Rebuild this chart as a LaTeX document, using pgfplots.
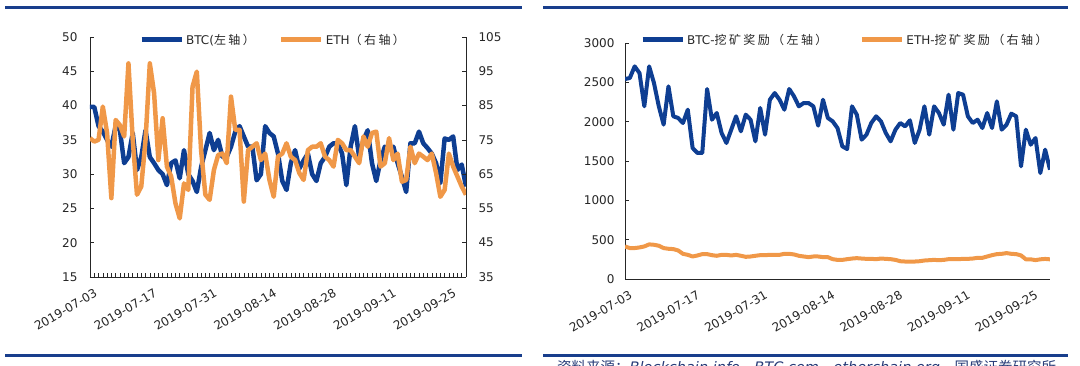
\documentclass[border=0pt]{standalone}
\usepackage{pgfplots}
\pgfplotsset{compat=1.18}
\usepackage{fontspec}
\setmainfont{DejaVu Sans}
\newfontfamily\cjk[LetterSpace=20]{Noto Sans CJK SC}
\newfontfamily\cjksrc{Noto Sans CJK SC}
\definecolor{btc}{RGB}{14,62,146}
\definecolor{eth}{RGB}{240,152,72}
\definecolor{rulec}{RGB}{24,62,140}
\definecolor{srcc}{RGB}{40,60,120}

\pgfplotsset{
  common/.style={
    scale only axis,
    xmin=0, xmax=88,
    tick align=inside,
    axis line style={line width=0.8pt, black!85},
    every tick/.style={black!85, line width=0.6pt},
    tick label style={font=\fontsize{12}{14}\selectfont, text=black!85},
    /pgf/number format/assume math mode=true,
    /pgf/number format/1000 sep={},
    scaled ticks=false,
    xticklabel style={rotate=30, anchor=north east, yshift=-8pt, xshift=1pt},
    xtick={0,14,...,84},
    xticklabels={2019-07-03,2019-07-17,2019-07-31,2019-08-14,2019-08-28,2019-09-11,2019-09-25},
    legend image code/.code={\draw[#1, line width=5pt] (0pt,0pt) -- (40pt,0pt);},
    legend style={draw=none, fill=none, legend columns=2,
      font=\fontsize{12}{14}\selectfont, text=black!85,
      inner xsep=0pt, inner ysep=0pt,
      nodes={inner xsep=2pt},
      /tikz/every even column/.append style={column sep=22pt}},
  }
}

\begin{document}
\begin{tikzpicture}[x=1pt,y=1pt]
\useasboundingbox (0,0) rectangle (1080,366);
% decoration rules
\draw[rulec, line width=3pt] (5,358) -- (522,358);
\draw[rulec, line width=3pt] (5,10) -- (522,10);
\draw[rulec, line width=3pt] (543,358) -- (1068,358);
\draw[rulec, line width=3pt] (543,10) -- (1068,10);
\begin{scope}
\clip (540,0) rectangle (1080,8.5);
\node[anchor=north west, inner sep=0pt, text=srcc, font=\fontsize{14.5}{16}\selectfont\itshape] at (557,6)
  {{\cjksrc 资料来源：}Blockchain.info{\cjksrc 、}BTC.com{\cjksrc 、}etherchain.org{\cjksrc 、国盛证券研究所}};
\end{scope}

% ---------------- left chart ----------------
\begin{axis}[common,
  at={(90pt,89pt)}, anchor=south west, width=376pt, height=240pt,
  ymin=15, ymax=50, ytick={15,20,...,50},
  axis x line*=bottom, axis y line*=left,
  minor xtick={0,1,...,88},
  major tick length=4pt, minor tick length=4pt,
  yticklabel style={xshift=-9pt},
]
\addplot[btc, line width=4.5pt, line join=round] coordinates {
(0,39.8)(1,39.8)(2,37)(3,36.2)(4,35)(5,34)(6,37)(7,36.4)(8,31.6)(9,32.5)
(10,36)(11,30.6)(12,32.5)(13,36.4)(14,32.5)(15,31.6)(16,30.6)(17,30)(18,28.4)(19,31.6)
(20,32)(21,29.4)(22,33.5)(23,30)(24,29)(25,27.4)(26,31)(27,33.5)(28,36)(29,33.5)
(30,35)(31,32.5)(32,32.5)(33,34)(34,36.2)(35,37)(36,35.5)(37,34)(38,34)(39,29.1)
(40,30)(41,37)(42,36)(43,35.5)(44,33)(45,29)(46,27.7)(47,31.6)(48,33.5)(49,30.8)
(50,32)(51,33)(52,30)(53,29)(54,31.6)(55,32.5)(56,34)(57,34.5)(58,34.5)(59,33)
(60,28.4)(61,34)(62,37)(63,32.5)(64,35)(65,36.4)(66,31.6)(67,29)(68,32)(69,34)
(70,33.5)(71,34)(72,31.6)(73,29.6)(74,27.4)(75,34.5)(76,34.5)(77,36.2)(78,34.5)(79,33.8)
(80,33)(81,31.6)(82,28.7)(83,35.2)(84,35)(85,35.5)(86,30.6)(87,31.4)(88,28.2)
};
\end{axis}
\begin{axis}[common,
  at={(90pt,89pt)}, anchor=south west, width=376pt, height=240pt,
  ymin=35, ymax=105, ytick={35,45,...,105},
  axis x line=none, axis y line*=right,
  major tick length=4pt,
  yticklabel style={xshift=9pt},
  legend style={at={(0.13,0.9875)}, anchor=west},
]
\addlegendimage{btc, line width=4.5pt}
\addlegendentry{BTC({\cjk 左轴）}}
\addplot[eth, line width=4.5pt, line join=round] coordinates {
(0,75.5)(1,74.5)(2,75)(3,84.7)(4,77)(5,58)(6,80.8)(7,79.3)(8,76)(9,97.3)
(10,75)(11,59)(12,61.4)(13,75)(14,97.3)(15,88.6)(16,69.1)(17,81.3)(18,67.2)(19,64.3)
(20,56.5)(21,52.1)(22,62.3)(23,60.4)(24,90.5)(25,94.9)(26,72)(27,59)(28,57.5)(29,66.2)
(30,70.6)(31,71)(32,68.2)(33,87.6)(34,77.9)(35,77.9)(36,57)(37,72)(38,73)(39,74)
(40,69.1)(41,71)(42,63.3)(43,58.4)(44,70.1)(45,71)(46,74)(47,70.1)(48,69.1)(49,65.3)
(50,63.3)(51,72)(52,73)(53,73)(54,74)(55,70.1)(56,69.1)(57,67.2)(58,75)(59,74)
(60,72)(61,72)(62,70.1)(63,68.2)(64,76)(65,73)(66,77)(67,77.4)(68,67.2)(69,68.2)
(70,75.5)(71,69.1)(72,71)(73,62.8)(74,63.3)(75,73)(76,68.2)(77,71)(78,70.1)(79,69.1)
(80,71)(81,65.3)(82,58.4)(83,60.4)(84,71)(85,67.2)(86,64.3)(87,61.4)(88,59)
};
\addlegendentry{ETH{\cjk （右轴）}}
\end{axis}

% ---------------- right chart ----------------
\begin{axis}[common,
  at={(625pt,87pt)}, anchor=south west, width=425pt, height=236pt,
  ymin=0, ymax=3000, ytick={0,500,...,3000},
  axis x line*=bottom, axis y line*=left,
  major tick length=4pt,
  x tick style={draw=none},
  extra x ticks={10,20,...,80}, extra x tick labels={},
  extra x tick style={major tick length=6pt, tick style={draw=black!85}},
  yticklabel style={xshift=-7pt},
  legend style={at={(0.035,1.013)}, anchor=west,
    /tikz/every even column/.append style={column sep=30pt}},
]
\addplot[btc, line width=4pt, line join=round] coordinates {
(0,2542)(1,2555)(2,2703)(3,2618)(4,2195)(5,2703)(6,2491)(7,2195)(8,1962)(9,2449)
(10,2068)(11,2047)(12,1983)(13,2152)(14,1665)(15,1602)(16,1602)(17,2415)(18,2025)(19,2110)
(20,1856)(21,1729)(22,1898)(23,2068)(24,1877)(25,2089)(26,2025)(27,1750)(28,2174)(29,1835)
(30,2279)(31,2364)(32,2279)(33,2152)(34,2415)(35,2322)(36,2195)(37,2237)(38,2237)(39,2195)
(40,1949)(41,2279)(42,2047)(43,2004)(44,1919)(45,1686)(46,1652)(47,2195)(48,2089)(49,1771)
(50,1835)(51,1983)(52,2068)(53,2004)(54,1856)(55,1750)(56,1898)(57,1983)(58,1940)(59,2017)
(60,1729)(61,1898)(62,2195)(63,1835)(64,2195)(65,2110)(66,1962)(67,2343)(68,1898)(69,2364)
(70,2343)(71,2068)(72,1983)(73,2025)(74,1919)(75,2110)(76,1919)(77,2258)(78,1898)(79,1962)
(80,2102)(81,2068)(82,1432)(83,1898)(84,1707)(85,1792)(86,1347)(87,1644)(88,1390)
};
\addlegendentry{BTC-{\cjk 挖矿奖励（左轴）}}
\addplot[eth, line width=4pt, line join=round] coordinates {
(0,414)(1,393)(2,393)(3,401)(4,414)(5,440)(6,435)(7,423)(8,393)(9,384)
(10,380)(11,363)(12,320)(13,307)(14,286)(15,299)(16,316)(17,316)(18,303)(19,295)
(20,307)(21,307)(22,299)(23,307)(24,295)(25,282)(26,286)(27,295)(28,303)(29,303)
(30,307)(31,307)(32,307)(33,320)(34,320)(35,312)(36,295)(37,286)(38,278)(39,286)
(40,286)(41,278)(42,278)(43,252)(44,243)(45,243)(46,252)(47,260)(48,265)(49,260)
(50,256)(51,256)(52,252)(53,260)(54,256)(55,252)(56,243)(57,226)(58,222)(59,222)
(60,222)(61,226)(62,235)(63,239)(64,243)(65,239)(66,243)(67,252)(68,252)(69,252)
(70,256)(71,256)(72,260)(73,269)(74,269)(75,286)(76,303)(77,316)(78,320)(79,329)
(80,320)(81,316)(82,300)(83,250)(84,250)(85,240)(86,250)(87,255)(88,250)
};
\addlegendentry{ETH-{\cjk 挖矿奖励（右轴）}}
\end{axis}
\end{tikzpicture}
\end{document}
